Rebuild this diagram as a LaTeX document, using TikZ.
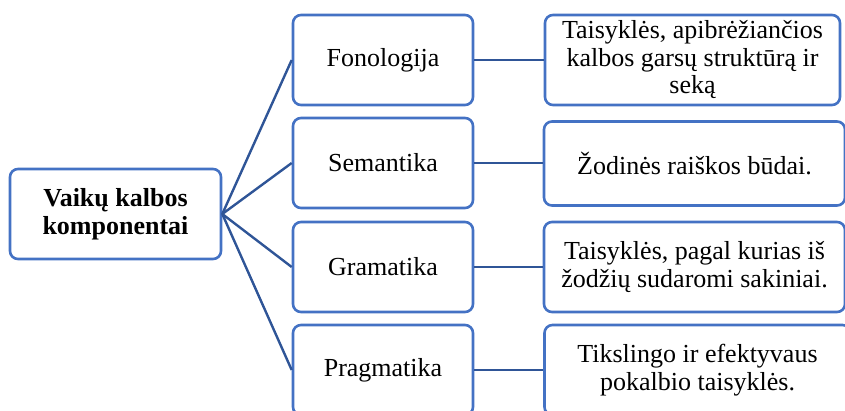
\documentclass[tikz,border=0pt]{standalone}
\usepackage{fontspec}
\setmainfont{Liberation Serif}
\definecolor{boxblue}{HTML}{4472C4}
\definecolor{linkblue}{HTML}{2F5597}
\begin{document}
\begin{tikzpicture}[x=1pt,y=-1pt,
  card/.style={draw=boxblue, line width=2.6pt, rounded corners=8pt, inner sep=0pt,
    align=center, font=\fontsize{26}{27.5}\selectfont, text=black},
  link/.style={draw=linkblue, line width=2.4pt}]
\useasboundingbox (0,0) rectangle (845,410);
\clip (0,0) rectangle (845,410);
\node[card, minimum width=211pt, minimum height=90pt, font=\fontsize{26}{27.5}\selectfont\bfseries] (root) at (115.5,214) {Vaikų kalbos\\komponentai};
\node[card, minimum width=180pt, minimum height=90pt] (m1) at (383,60) {Fonologija};
\node[card, minimum width=180pt, minimum height=90pt] (m2) at (383,163) {Semantika};
\node[card, minimum width=180pt, minimum height=90pt] (m3) at (383,267) {Gramatika};
\node[card, minimum width=180pt, minimum height=90pt] (m4) at (383,370) {Pragmatika};
\node[card, minimum width=295pt, minimum height=90pt] (r1) at (692.5,60) {Taisyklės, apibrėžiančios\\kalbos garsų struktūrą ir\\seką};
\node[card, minimum width=301pt, minimum height=84pt] (r2) at (694.5,163.5) {Žodinės raiškos būdai.};
\node[card, minimum width=301pt, minimum height=90pt] (r3) at (694.5,267) {Taisyklės, pagal kurias iš\\žodžių sudaromi sakiniai.};
\node[card, minimum width=306pt, minimum height=90pt] (r4) at (697.5,370) {Tikslingo ir efektyvaus\\pokalbio taisyklės.};
\foreach \m in {m1,m2,m3,m4} \draw[link] (root.east) -- (\m.west);
\draw[link] (m1.east) -- (r1.west);
\draw[link] (m2.east) -- (m2.east -| r2.west);
\draw[link] (m3.east) -- (r3.west);
\draw[link] (m4.east) -- (r4.west);
\end{tikzpicture}
\end{document}
